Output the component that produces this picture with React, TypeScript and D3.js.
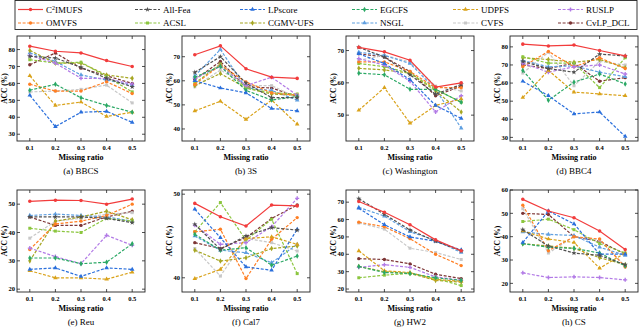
import React from 'react';
import * as d3 from 'd3';

// series order used by every dataset array below
const methods = ['C²IMUFS', 'All-Fea', 'LPscore', 'EGCFS', 'UDPFS', 'RUSLP', 'OMVFS', 'ACSL', 'CGMV-UFS', 'NSGL', 'CVFS', 'CvLP_DCL'];
const colors = ['#f23c3c', '#505050', '#2a6fdc', '#2aa864', '#d9a21a', '#b27ae6', '#ff7f24', '#8cc63f', '#a6a622', '#5f9fe0', '#c8c8c8', '#7d3535'];
const missing = [0.1, 0.2, 0.3, 0.4, 0.5];

const accBBCS = [
  [82, 79, 78, 73.5, 70],
  [76, 75, 69.5, 63, 58],
  [53, 34.5, 43, 43.5, 37],
  [56, 59.5, 51.5, 47, 43],
  [64.5, 47, 49, 40.5, 43],
  [76.5, 72, 63, 63, 59.5],
  [59.5, 55.5, 55.5, 61, 54],
  [74, 72, 72.5, 64, 55],
  [79.5, 72, 72, 65, 63],
  [78, 73, 65, 62, 59],
  [55, 55.5, 56.5, 59, 48.5],
  [71, 78, 69, 64.5, 60],
];
const acc3S = [
  [70.8, 74.5, 65, 61.5, 61],
  [63.5, 70, 59, 53, 53],
  [60, 57, 55, 48.5, 47.5],
  [61.5, 66, 56, 52, 53.5],
  [47.5, 51.5, 44, 52, 42],
  [61, 66, 58, 61.5, 54],
  [58.5, 66.5, 59.5, 55, 54],
  [59, 67, 57, 55, 54.5],
  [58, 63, 57, 54.5, 54],
  [62, 73, 57, 56, 52],
  [57.5, 64.5, 58, 58, 53],
  [60.5, 68, 57.5, 57, 53.5],
];
const accWashington = [
  [71, 69.6, 67, 58.7, 60],
  [71, 68, 62.5, 56.5, 59.5],
  [69, 66, 61, 53, 49],
  [63, 62.5, 58, 58, 54],
  [51.5, 58.5, 47.5, 53, 55],
  [67.5, 65.5, 60.5, 51, 56],
  [66.5, 66.5, 63.5, 58.5, 58.5],
  [66, 65, 63, 58, 54],
  [64.5, 64, 63, 57.5, 51],
  [69.5, 68.5, 66, 58, 46],
  [67, 68.5, 66.5, 59, 57.5],
  [69, 68, 63.5, 56, 59],
];
const accBBC4 = [
  [81.5, 80.5, 81, 78, 75],
  [72, 68, 66, 76, 75],
  [61, 53, 43, 44, 30.5],
  [67, 50.5, 60.5, 65, 59.5],
  [52, 67, 55, 54, 53],
  [71, 66, 69, 70, 65],
  [69, 77.5, 69, 74, 68],
  [74.5, 71, 71, 57.5, 74],
  [74, 73, 71.5, 73, 68.5],
  [72.5, 69, 69.5, 66, 63.5],
  [65.5, 77, 58.5, 72, 70],
  [70, 68, 71, 61, 63],
];
const accReu = [
  [51, 51.4, 51.3, 50, 51.8],
  [45.5, 45.5, 45.5, 45, 43.5],
  [27, 27.5, 24.5, 27.5, 27],
  [31, 31, 29, 29.5, 36],
  [26.5, 24, 24, 23.5, 26],
  [34.5, 31.5, 29, 39, 35.5],
  [34, 43, 44, 46, 50],
  [41.5, 40.5, 40, 45, 44],
  [30, 44, 45.5, 47.5, 44.5],
  [46, 46.5, 46, 45.5, 44],
  [38, 44, 45, 46.5, 47],
  [45.5, 42.5, 42.5, 45.5, 47.5],
];
const accCal7 = [
  [48.9, 47.3, 46.2, 48.7, 48.6],
  [46.4, 43.4, 45, 46, 45.7],
  [48.2, 44.8, 41.3, 40.9, 45.8],
  [45.2, 43.3, 43.6, 41.5, 42.6],
  [39.9, 41, 44.7, 44.9, 44],
  [46.3, 44, 44.2, 46.1, 49.5],
  [45.5, 45.8, 39.9, 44.6, 47.2],
  [45.5, 49, 44.5, 47, 40.5],
  [43.3, 42, 42.4, 43.5, 43.8],
  [45, 43.3, 43, 41.8, 44],
  [43.5, 40.2, 44.7, 44.2, 43.2],
  [44.2, 43.5, 44.8, 47.1, 48.7],
];
const accHW2 = [
  [70.4, 64.2, 57, 48.3, 42],
  [72, 63, 54, 47.5, 42],
  [66.5, 57, 50, 47.5, 42.5],
  [33, 29.5, 29, 26.5, 25],
  [42, 30.5, 29.5, 25.5, 24.5],
  [32.5, 34, 32.5, 27, 25],
  [58.5, 55.8, 49, 40, 33.5],
  [26.5, 28, 29, 26, 22],
  [33, 30, 29, 25, 24],
  [67, 62, 53, 48, 41],
  [58, 54.5, 43.5, 41, 37],
  [37.5, 37, 34.5, 28.5, 26],
];
const accCS = [
  [56, 51, 48.1, 42.4, 34.5],
  [43, 36, 33, 32, 28],
  [37.5, 51, 45.5, 32.5, 32.5],
  [37, 35.5, 35, 33, 27.5],
  [42.5, 39, 37.5, 26.5, 33],
  [24.5, 22.5, 22.8, 22.5, 21.5],
  [53.5, 34, 40, 39, 27],
  [46.5, 47.5, 43, 37, 33],
  [37, 36, 35, 31, 28],
  [42, 41, 40.5, 35.5, 32],
  [52, 33, 40, 38.5, 27.5],
  [50, 49.5, 40, 38, 32.5],
];

const datasets = [
  { caption: '(a) BBCS', values: accBBCS, domain: [26, 88], ticks: [30, 40, 50, 60, 70, 80] },
  { caption: '(b) 3S', values: acc3S, domain: [35, 78.6], ticks: [40, 50, 60, 70] },
  { caption: '(c) Washington', values: accWashington, domain: [42, 74.5], ticks: [50, 60, 70] },
  { caption: '(d) BBC4', values: accBBC4, domain: [28, 86], ticks: [30, 40, 50, 60, 70, 80] },
  { caption: '(e) Reu', values: accReu, domain: [19, 55], ticks: [20, 30, 40, 50] },
  { caption: '(f) Cal7', values: accCal7, domain: [38.3, 50.5], ticks: [40, 50] },
  { caption: '(g) HW2', values: accHW2, domain: [18.3, 77], ticks: [20, 30, 40, 50, 60, 70] },
  { caption: '(h) CS', values: accCS, domain: [16.3, 60], ticks: [20, 30, 40, 50, 60] },
];

const symbols = [d3.symbolCircle, d3.symbolStar, d3.symbolTriangle, d3.symbolDiamond, d3.symbolTriangle, d3.symbolCross,
  d3.symbolCircle, d3.symbolSquare, d3.symbolDiamond, d3.symbolTriangle, d3.symbolSquare, d3.symbolCircle];

const serif = '"Liberation Serif", "DejaVu Serif", serif';
const colX = [17, 182, 346, 510];
const rowY = [36, 190];
const panelW = 128;
const rowH = [105, 102];

const legendX = [18, 135, 240, 352, 453, 558];

const Panel = ({ d, i }) => {
  const x0 = colX[i % 4];
  const y0 = rowY[Math.floor(i / 4)];
  const h = rowH[Math.floor(i / 4)];
  const x = d3.scaleLinear().domain([0.05, 0.55]).range([x0, x0 + panelW]);
  const y = d3.scaleLinear().domain(d.domain).range([y0 + h, y0]);
  const line = d3.line<number>().x((_, k) => x(missing[k])).y(v => y(v));
  const order = d3.range(methods.length).reverse();
  const clipId = `clip${i}`;
  return (
    <g>
      <clipPath id={clipId}><rect x={x0} y={y0} width={panelW} height={h} /></clipPath>
      <g clipPath={`url(#${clipId})`}>
        {order.map(s => (
          <g key={s}>
            <path d={line(d.values[s]) ?? ''} fill="none" stroke={colors[s]} strokeWidth={1.2}
              strokeDasharray={s === 0 ? undefined : '3,1.6'} />
            {d.values[s].map((v, k) => (
              <path key={k} transform={`translate(${x(missing[k])},${y(v)})`}
                d={d3.symbol(symbols[s], s === 0 ? 10 : 9)() ?? ''} fill={colors[s]} />
            ))}
          </g>
        ))}
      </g>
      <rect x={x0} y={y0} width={panelW} height={h} fill="none" stroke="#222" strokeWidth={0.9} />
      {missing.map(m => (
        <g key={m}>
          <line x1={x(m)} x2={x(m)} y1={y0 + h} y2={y0 + h - 3} stroke="#222" strokeWidth={0.8} />
          <line x1={x(m)} x2={x(m)} y1={y0} y2={y0 + 3} stroke="#222" strokeWidth={0.8} />
          <text x={x(m)} y={y0 + h + 9} fontSize={6.5} fontWeight="bold" textAnchor="middle" fontFamily={serif}>{m.toFixed(1)}</text>
        </g>
      ))}
      {d.ticks.map(t => (
        <g key={t}>
          <line x1={x0} x2={x0 + 3} y1={y(t)} y2={y(t)} stroke="#222" strokeWidth={0.8} />
          <line x1={x0 + panelW} x2={x0 + panelW - 3} y1={y(t)} y2={y(t)} stroke="#222" strokeWidth={0.8} />
          <text x={x0 - 2} y={y(t) + 2.2} fontSize={6.5} fontWeight="bold" textAnchor="end" fontFamily={serif}>{t}</text>
        </g>
      ))}
      <text transform={`translate(${x0 - 10},${y0 + h / 2}) rotate(-90)`} fontSize={7.5} fontWeight="bold"
        textAnchor="middle" fontFamily={serif}>ACC (%)</text>
      <text x={x0 + panelW / 2} y={y0 + h + 19} fontSize={8} fontWeight="bold" textAnchor="middle" fontFamily={serif}>Missing ratio</text>
      <text x={x0 + panelW / 2} y={y0 + h + 32.5} fontSize={9} textAnchor="middle" fontFamily={serif}>{d.caption}</text>
    </g>
  );
};

export default function App() {
  return (
    <svg width={640} height={331} style={{ position: 'absolute', left: 0, top: 0, background: '#fff' }}>
      <rect x={15} y={0.5} width={622} height={29} fill="none" stroke="#222" strokeWidth={0.9} />
      {methods.map((m, s) => {
        const lx = legendX[s % 6];
        const ly = s < 6 ? 9.5 : 23;
        return (
          <g key={m}>
            <line x1={lx} x2={lx + 25} y1={ly} y2={ly} stroke={colors[s]} strokeWidth={1.2}
              strokeDasharray={s === 0 ? undefined : '3,1.6'} />
            <path transform={`translate(${lx + 12.5},${ly})`} d={d3.symbol(symbols[s], 9)() ?? ''} fill={colors[s]} />
            <text x={lx + 28} y={ly + 3} fontSize={9} fontFamily={serif}>
              {s === 0 ? (<>C<tspan fontSize={6} dy={-3}>2</tspan><tspan dy={3}>IMUFS</tspan></>) : m}
            </text>
          </g>
        );
      })}
      {datasets.map((d, i) => <Panel key={d.caption} d={d} i={i} />)}
    </svg>
  );
}
